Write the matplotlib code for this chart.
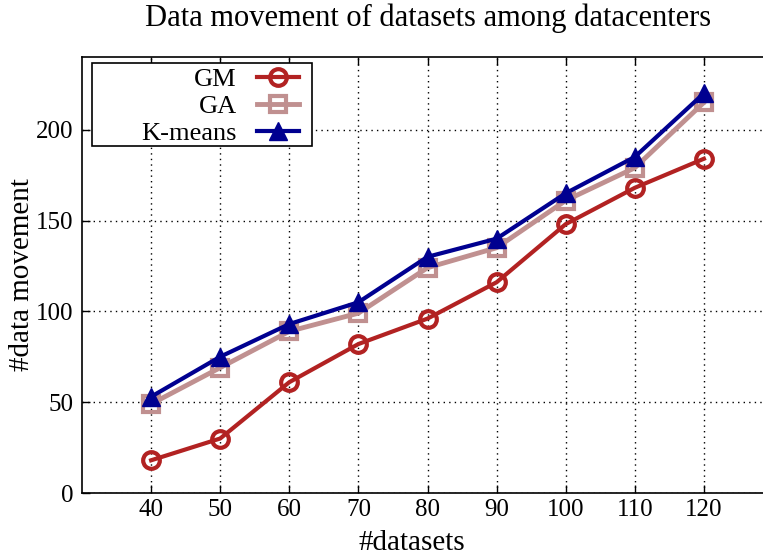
import numpy as np
import matplotlib.pyplot as plt
from matplotlib.patches import Rectangle

plt.rcParams['font.family'] = ['Liberation Serif', 'DejaVu Serif']

# Number of datasets and resulting data movements per method
datasets = [40, 50, 60, 70, 80, 90, 100, 110, 120]
gm = [18, 30, 61, 82, 96, 116, 148, 168, 184]
ga = [49, 69, 89, 99, 124, 135, 161, 179, 215]
kmeans = [53, 75, 93, 105, 130, 140, 165, 185, 220]

W, H = 763, 558
fig = plt.figure(figsize=(W/100, H/100), dpi=100)
ax = fig.add_axes([82/W, 1-493/H, (773-82)/W, (493-57)/H])

ax.plot(datasets, gm, '-o', c='#b22222', lw=3, ms=12, mew=3,
        mfc='none', label='GM', zorder=3)
ax.plot(datasets, ga, '-s', c='#c09090', lw=3.5, ms=11, mew=3,
        mfc='none', label='GA', zorder=3)
ax.plot(datasets, kmeans, '-^', c='#000090', lw=3, ms=13, mew=1,
        label='K-means', zorder=4)

ax.set_xlim(30, 130)
ax.set_ylim(0, 240)
ax.set_xticks(datasets)
ax.set_yticks([0, 50, 100, 150, 200])
ax.tick_params(direction='in', length=6, width=1, labelsize=18,
               top=True, right=True)
ax.tick_params(axis='x', pad=4)
ax.tick_params(axis='y', pad=6)
ax.grid(True, linestyle=(0, (1, 3)), color='black', lw=1)
for s in ax.spines.values():
    s.set_linewidth(1.2)

ax.set_xlabel('#datasets', fontsize=21)
ax.set_ylabel('#data movement', fontsize=21)
ax.xaxis.set_label_coords((412-82)/(773-82), -(543-493)/436)
ax.yaxis.set_label_coords(-(82-22)/691, 0.5)
ax.xaxis.label.set_va('center')
ax.yaxis.label.set_va('center')
fig.text(428/W, 1-18/H, 'Data movement of datasets among datacenters',
         ha='center', va='center', fontsize=22)

# key box drawn separately so it can be wider than its entries
box = Rectangle((92/W, 1-146/H), (312-92)/W, (146-63)/H,
                transform=fig.transFigure, facecolor='white',
                edgecolor='black', lw=1.2, zorder=5)
ax.add_patch(box)
leg = ax.legend(loc='upper right', bbox_to_anchor=(299/W, 1-68/H),
                bbox_transform=fig.transFigure,
                markerfirst=False, fontsize=19, handlelength=1.6,
                frameon=False, borderpad=0, labelspacing=0.12,
                handletextpad=0.75, borderaxespad=0)
leg.set_zorder(6)
leg._legend_box.align = 'right'

fig.savefig('out.png', dpi=100)
